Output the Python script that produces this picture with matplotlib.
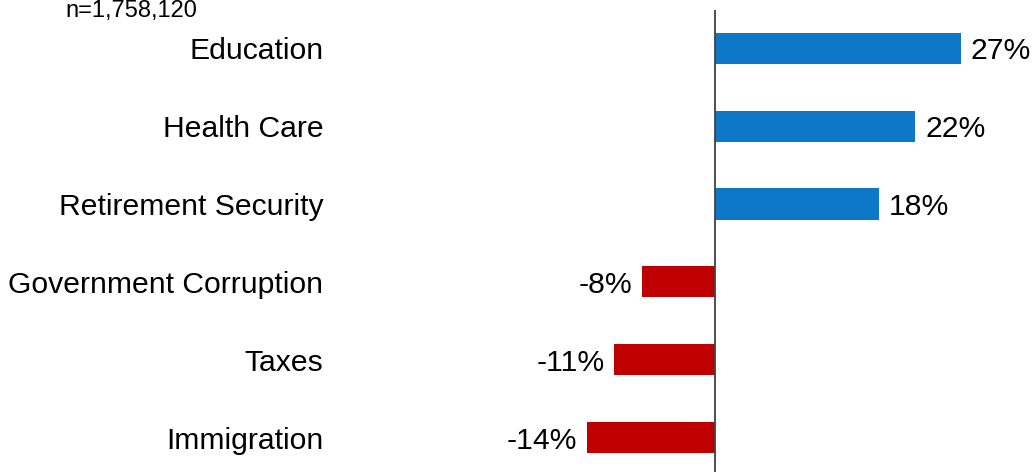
import numpy as np
import matplotlib.pyplot as plt

plt.rcParams['font.family'] = ['Liberation Sans', 'DejaVu Sans']

# data
issues = ['Education', 'Health Care', 'Retirement Security',
          'Government Corruption', 'Taxes', 'Immigration']
values = [27, 22, 18, -8, -11, -14]
sample_note = 'n=1,758,120'

blue = '#0E78C8'
red = '#C00000'
colors = [blue if v > 0 else red for v in values]

fig = plt.figure(figsize=(10.33, 4.72), dpi=100)
ax = fig.add_axes([0.329, 0.0, 0.671, 462/472])

y = np.arange(len(issues))
ax.barh(y, values, height=0.4, color=colors)
ax.axvline(0, color='#404040', lw=1.3)

for yi, v in zip(y, values):
    if v > 0:
        ax.annotate('%d%%' % v, (v, yi), xytext=(7, 0), textcoords='offset points',
                    ha='left', va='center_baseline', fontsize=21.7)
    else:
        ax.annotate('%d%%' % v, (v, yi), xytext=(-7, 0), textcoords='offset points',
                    ha='right', va='center_baseline', fontsize=21.7)

ax.set_yticks(y)
ax.set_yticklabels(issues, fontsize=21.7)
ax.tick_params(axis='y', length=0, pad=12)
ax.set_xticks([])
ax.set_xlim(-41.1, 34.9)
ax.set_ylim(5.44, -0.49)
for s in ax.spines.values():
    s.set_visible(False)

fig.text(65/1033, 1 - 17/472, sample_note, fontsize=17, ha='left', va='baseline')

fig.savefig('out.png', dpi=100)
